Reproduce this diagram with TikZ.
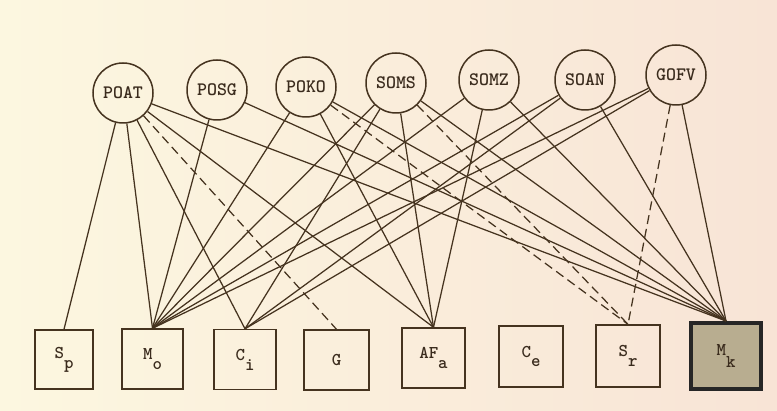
\documentclass[tikz,border=0pt]{standalone}
\usepackage{fontspec}
\setmonofont{Latin Modern Mono Light}
\definecolor{lineclr}{HTML}{45331F}
\definecolor{textclr}{HTML}{3A2B1D}
\definecolor{bgl}{HTML}{FCF7E0}
\definecolor{bgr}{HTML}{F8E4D6}
\definecolor{mkfill}{HTML}{B8AD90}
\newcommand\sublbl[2]{#1\raisebox{-0.55em}{#2}}
\begin{document}
\begin{tikzpicture}[x=1pt,y=-1pt,
  ln/.style={draw=lineclr, line width=1.25pt},
  dsh/.style={ln, dash pattern=on 9pt off 5pt},
  circ/.style={circle, draw=lineclr, line width=1.5pt, minimum size=60pt, inner sep=0pt,
    font=\ttfamily\bfseries\fontsize{19}{19}\selectfont, text=textclr},
  box/.style={rectangle, draw=lineclr, line width=1.4pt, minimum width=61pt, minimum height=60pt,
    inner sep=0pt, font=\ttfamily\bfseries\fontsize{18}{18}\selectfont, text=textclr}]
\shade[left color=bgl, right color=bgr] (0,0) rectangle (777,411);
\useasboundingbox (0,0) rectangle (777,411);
% circles
\node[circ] (poat) at (123,93) {POAT};
\node[circ] (posg) at (217,90) {POSG};
\node[circ] (poko) at (306,87) {POKO};
\node[circ] (soms) at (396,83) {SOMS};
\node[circ] (somz) at (489,80) {SOMZ};
\node[circ] (soan) at (585,80) {SOAN};
\node[circ] (gofv) at (676,75) {GOFV};
% boxes
\node[box, minimum width=58pt, minimum height=59pt] (sp) at (64,359.5) {\sublbl{S}{p}};
\node[box] (mo) at (152.5,359) {\sublbl{M}{o}};
\node[box, minimum width=62pt] (ci) at (245,359.5) {\sublbl{C}{i}};
\node[box, minimum width=65pt] (g) at (336.5,360) {G};
\node[box, minimum width=63pt] (af) at (433.5,358) {\sublbl{AF}{a}};
\node[box, minimum width=64pt, minimum height=61pt] (ce) at (531,356.5) {\sublbl{C}{e}};
\node[box, minimum width=64pt, minimum height=62pt] (sr) at (628,356) {\sublbl{S}{r}};
\node[box, fill=mkfill, draw=black!85, line width=4pt, minimum width=70pt, minimum height=66pt] (mk) at (726,356) {\sublbl{M}{\raisebox{-0.15em}{k}}};
% edges
\foreach \a/\b in {poat/sp, poat/mo, poat/ci, poat/af, poat/mk,
  posg/mo, posg/mk,
  poko/mo, poko/af, poko/mk,
  soms/mo, soms/ci, soms/af, soms/mk,
  somz/mo, somz/af, somz/mk,
  soan/mo, soan/ci, soan/mk,
  gofv/mo, gofv/ci, gofv/mk}
  \draw[ln] (\a) -- (\b.north);
\foreach \a/\b in {poat/g, poko/sr, soms/sr, gofv/sr}
  \draw[dsh] (\a) -- (\b.north);
\end{tikzpicture}
\end{document}
